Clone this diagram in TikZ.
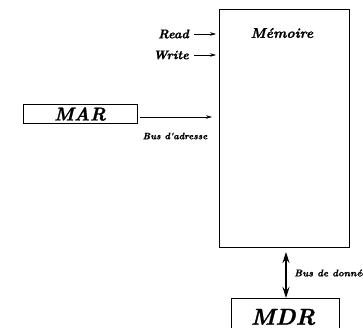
\documentclass[tikz,border=0pt]{standalone}
\usepackage{fontspec}
\newfontfamily\heavyit{lmroman10-bolditalic.otf}[FakeBold=1.2]
\usetikzlibrary{arrows.meta}
\begin{document}
\begin{tikzpicture}[x=1pt,y=-1pt,
  box/.style={draw,line width=0.8pt,inner sep=0pt},
  lbl/.style={inner sep=0pt,font=\heavyit},
  arr/.style={line width=0.6pt,-{Stealth[length=6pt,width=3.5pt]}}]
\useasboundingbox (0,0) rectangle (363,328);
\clip (0,0) rectangle (363,328);
\node[box,minimum width=130pt,minimum height=238pt] (mem) at (284,128) {};
\node[lbl,font=\heavyit\fontsize{14}{16}\selectfont] (memt) at (282,33) {Mémoire};
\node[box,minimum width=114pt,minimum height=19pt] (mar) at (80,113.5) {};
\node[lbl,font=\heavyit\fontsize{18.5}{20}\selectfont] (mart) at (80,114) {MAR};
\node[box,minimum width=108pt,minimum height=40pt] (mdr) at (285,318) {};
\node[lbl,font=\heavyit\fontsize{23}{25}\selectfont] (mdrt) at (283,317) {MDR};
\node[lbl,font=\heavyit\fontsize{12.5}{14}\selectfont,anchor=east] (read) at (189,34) {Read};
\node[lbl,font=\heavyit\fontsize{12.5}{14}\selectfont,anchor=east] (write) at (189,55) {Write};
\node[lbl,font=\heavyit\fontsize{9.3}{11}\selectfont] (busa) at (175,136) {Bus d'adresse};
\node[lbl,font=\heavyit\fontsize{9.8}{11}\selectfont,anchor=west] (busd) at (294,273) {Bus de données};
\coordinate (ra) at (216,34);
\coordinate (wa) at (216,55);
\coordinate (ms) at (140,117);
\coordinate (me) at (212,117);
\coordinate (dt) at (286,252);
\coordinate (db) at (286,298);
\draw[arr] ([xshift=5pt]read.east) -- (ra);
\draw[arr] ([xshift=5pt]write.east) -- (wa);
\draw[arr] (ms) -- (me);
\draw[line width=1.2pt,{Stealth[length=11pt,width=7pt]}-{Stealth[length=11pt,width=7pt]}] (dt) -- (db);
\end{tikzpicture}
\end{document}
